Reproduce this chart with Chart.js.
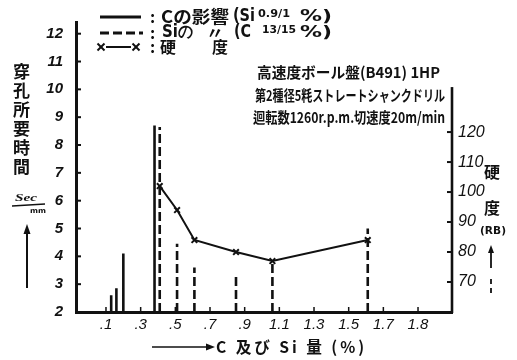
<!DOCTYPE html>
<html><head><meta charset="utf-8">
<script src="https://cdn.jsdelivr.net/npm/chart.js@4"></script>
<style>html,body{margin:0;padding:0;background:#fff}#wrap{width:517px;height:360px}</style>
</head><body><div id="wrap"><canvas id="c" width="517" height="360"></canvas></div>
<script>
// ---- data ----
const cX = [0.13, 0.16, 0.20, 0.38];          // C content (%) – solid stems
const cTime = [2.6, 2.85, 4.1, 8.7];          // drilling time (sec/mm)
const siX = [0.41, 0.51, 0.61, 0.85, 1.06, 1.61]; // Si content (%) – dashed stems
const siTime = [8.65, 4.45, 3.6, 3.35, 3.85, 5.0];
const hardX = [0.41, 0.51, 0.61, 0.85, 1.06, 1.61];
const hardness = [102, 94, 84, 80, 77, 84];   // hardness (RB)
const xTickVals = [0.1, 0.3, 0.5, 0.7, 0.9, 1.1, 1.3, 1.5, 1.7, 1.9];
const xTickLabels = ['.1', '.3', '.5', '.7', '.9', '1.1', '1.3', '1.5', '1.7', '1.8'];
const leftTicks = [2, 3, 4, 5, 6, 7, 8, 9, 10, 11, 12];
const rightTicks = [70, 80, 90, 100, 110, 120];
const LEFT_MIN = 2;

function stems(xs, ys) {
  const out = [];
  xs.forEach((x, i) => { out.push({x, y: LEFT_MIN}, {x, y: ys[i]}, {x, y: null}); });
  return out;
}

const INK = '#111';
function txt(ctx, s, x, y, font, o = {}) {
  ctx.save();
  ctx.font = font; ctx.fillStyle = INK;
  ctx.textAlign = 'left'; ctx.textBaseline = 'middle';
  if (o.ls) ctx.letterSpacing = o.ls;
  const m = ctx.measureText(s).width;
  ctx.translate(x, y);
  if (o.w) ctx.scale(o.w / m, 1);
  ctx.fillText(s, 0, 0);
  ctx.restore();
}
function line(ctx, x1, y1, x2, y2, w, dash) {
  ctx.save(); ctx.strokeStyle = INK; ctx.lineWidth = w;
  if (dash) ctx.setLineDash(dash);
  ctx.beginPath(); ctx.moveTo(x1, y1); ctx.lineTo(x2, y2); ctx.stroke(); ctx.restore();
}
function cross(ctx, x, y, r) {
  line(ctx, x - r, y - r, x + r, y + r, 2); line(ctx, x - r, y + r, x + r, y - r, 2);
}
function tri(ctx, pts) {
  ctx.save(); ctx.fillStyle = INK; ctx.beginPath();
  ctx.moveTo(pts[0], pts[1]); ctx.lineTo(pts[2], pts[3]); ctx.lineTo(pts[4], pts[5]);
  ctx.closePath(); ctx.fill(); ctx.restore();
}

const JP = '"Noto Sans CJK JP"';
const decor = {
  id: 'decor',
  afterDraw(chart) {
    const ctx = chart.ctx;
    const {x, y, y1} = chart.scales;
    const a = chart.chartArea;
    // inward tick marks
    leftTicks.slice(1).forEach(v => { const p = y.getPixelForValue(v); line(ctx, a.left, p, a.left + 5, p, 2); });
    rightTicks.forEach(v => { const p = y1.getPixelForValue(v); line(ctx, a.right, p, a.right - 5, p, 2); });
    xTickVals.forEach(v => { const p = x.getPixelForValue(v); line(ctx, p, a.bottom, p, a.bottom - 5, 1.5); });
    // right axis line (shorter than the left one)
    line(ctx, a.right, y1.getPixelForValue(60) + 1, a.right, y1.getPixelForValue(135), 2.6);

    // legend
    line(ctx, 100, 17, 141, 17, 3);
    txt(ctx, ':', 150, 17, 'bold 16px ' + JP);
    txt(ctx, 'Cの影響', 161, 17, 'bold 17px ' + JP, {w: 68});
    txt(ctx, '(Si', 233, 17, 'bold 17px "DejaVu Sans"', {w: 22});
    txt(ctx, '0.9/1', 258, 14, 'bold 10px "DejaVu Sans"', {w: 32});
    txt(ctx, '%)', 300, 17, 'bold 16px "DejaVu Sans"', {w: 32});

    line(ctx, 100, 33, 143, 33, 3, [9, 4]);
    txt(ctx, ':', 150, 33, 'bold 16px ' + JP);
    txt(ctx, 'Siの', 162, 33, 'bold 17px "DejaVu Sans"', {w: 31});
    txt(ctx, '〃', 206, 33, 'bold 16px ' + JP, {w: 18});
    txt(ctx, '(C', 234, 33, 'bold 17px "DejaVu Sans"', {w: 17});
    txt(ctx, '13/15', 262, 30, 'bold 10px "DejaVu Sans"', {w: 34});
    txt(ctx, '%)', 300, 33, 'bold 16px "DejaVu Sans"', {w: 32});

    cross(ctx, 101, 47, 3.5); line(ctx, 106, 47, 131, 47, 2); cross(ctx, 136, 47, 3.5);
    txt(ctx, ':', 150, 47, 'bold 16px ' + JP);
    txt(ctx, '硬', 160, 47, 'bold 16px ' + JP);
    txt(ctx, '度', 212, 47, 'bold 16px ' + JP);

    // test conditions
    txt(ctx, '高速度ボール盤(B491) 1HP', 257, 72, 'bold 15px ' + JP, {w: 183});
    txt(ctx, '第2種径5粍ストレートシャンクドリル', 255, 95, 'bold 15px ' + JP, {w: 190});
    txt(ctx, '迴転数1260r.p.m.切速度20m/min', 253, 117, 'bold 15px ' + JP, {w: 192});

    // left axis title
    ['穿', '孔', '所', '要', '時', '間'].forEach((ch, i) => {
      txt(ctx, ch, 13, 72 + i * 19, 'bold 17px ' + JP);
    });
    txt(ctx, 'Sec', 15, 198, 'italic bold 10px "Liberation Serif"', {w: 22});
    line(ctx, 12, 206, 45, 204, 1.5);
    txt(ctx, 'mm', 30, 211, 'bold 7px "DejaVu Sans"', {w: 16});
    line(ctx, 27, 288, 27, 232, 2);
    tri(ctx, [27, 224, 23.5, 234, 30.5, 234]);

    // right axis title
    txt(ctx, '硬', 484, 172, 'bold 16px ' + JP);
    txt(ctx, '度', 484, 208, 'bold 16px ' + JP);
    txt(ctx, '(RB)', 480, 231, 'bold 11px "DejaVu Sans"', {w: 26});
    line(ctx, 491, 252, 491, 268, 1.8);
    tri(ctx, [491, 245, 488, 253, 494, 253]);
    line(ctx, 491, 279, 491, 296, 1.8, [5, 4]);

    // x axis title
    line(ctx, 152, 347, 208, 347, 1.6);
    tri(ctx, [215, 347, 206, 343.5, 206, 350.5]);
    txt(ctx, 'C 及び Si 量 (%)', 216, 347, 'bold 16px ' + JP, {w: 151, ls: '3px'});
  }
};

const tickFont = {family: '"Liberation Sans"', style: 'italic', weight: 'bold', size: 15};

new Chart(document.getElementById('c').getContext('2d'), {
  type: 'scatter',
  data: {
    datasets: [
      {data: stems(cX, cTime), showLine: true, spanGaps: false, borderColor: INK, borderWidth: 2.6,
       pointRadius: 0, yAxisID: 'y', borderCapStyle: 'butt'},
      {data: stems(siX, siTime), showLine: true, spanGaps: false, borderColor: INK, borderWidth: 2.6,
       borderDash: [9, 4], pointRadius: 0, yAxisID: 'y'},
      {data: hardX.map((v, i) => ({x: v, y: hardness[i]})), showLine: true, borderColor: INK, borderWidth: 2,
       pointStyle: 'crossRot', pointRadius: 4, pointBorderWidth: 2, pointBorderColor: INK, yAxisID: 'y1'}
    ]
  },
  options: {
    responsive: false, animation: false, devicePixelRatio: 1,
    layout: {padding: {top: 17, left: 0, right: 0, bottom: 0}},
    plugins: {legend: {display: false}, tooltip: {enabled: false}, title: {display: false}},
    scales: {
      x: {
        type: 'linear', position: 'bottom', min: -0.073, max: 2.096,
        grid: {display: false, drawTicks: false},
        border: {display: true, width: 3, color: INK},
        afterBuildTicks: s => { s.ticks = xTickVals.map(v => ({value: v})); },
        ticks: {callback: (v, i) => xTickLabels[i], padding: 4, color: INK, maxRotation: 0, autoSkip: false,
                font: {family: '"Liberation Sans"', style: 'italic', size: 15}},
        afterFit: s => { s.height = 48; }
      },
      y: {
        type: 'linear', position: 'left', min: 2, max: 12.42,
        grid: {display: false, drawTicks: false},
        border: {display: true, width: 3, color: INK},
        afterBuildTicks: s => { s.ticks = leftTicks.map(v => ({value: v})); },
        ticks: {padding: 13, color: INK, font: tickFont},
        afterFit: s => { s.width = 76; }
      },
      y1: {
        type: 'linear', position: 'right', min: 60, max: 156.7,
        grid: {display: false, drawTicks: false},
        border: {display: false},
        afterBuildTicks: s => { s.ticks = rightTicks.map(v => ({value: v})); },
        ticks: {padding: 6, color: INK, font: {family: '"Liberation Sans"', style: 'italic', size: 16}},
        afterFit: s => { s.width = 65; }
      }
    }
  },
  plugins: [decor]
});
</script>
</body></html>
